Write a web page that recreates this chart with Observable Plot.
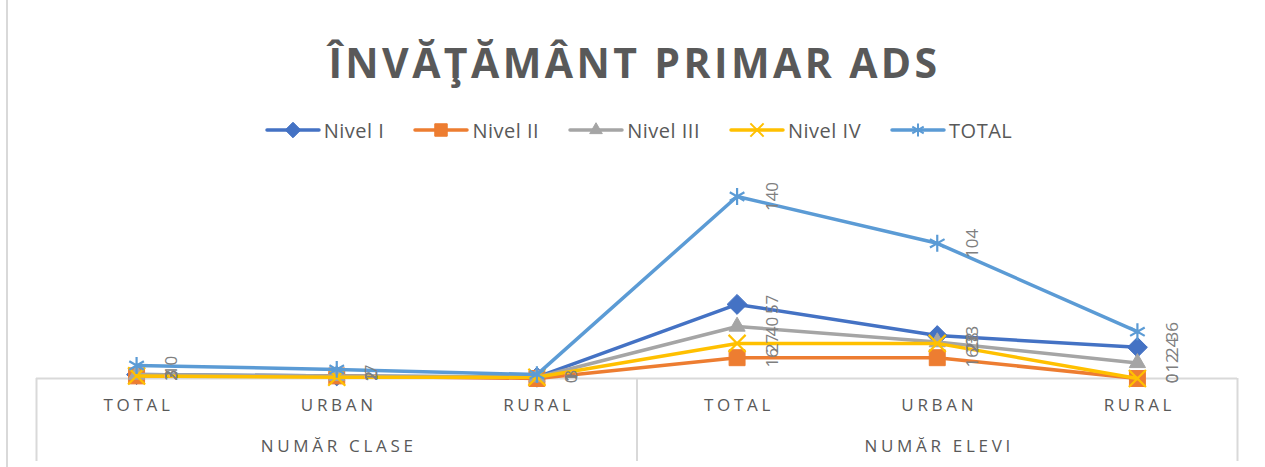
<!DOCTYPE html>
<html>
<head>
<meta charset="utf-8">
<script src="https://cdn.jsdelivr.net/npm/d3@7"></script>
<script src="https://cdn.jsdelivr.net/npm/@observablehq/plot@0.6"></script>
<style>
  html, body { margin: 0; padding: 0; background: #fff; }
  #wrap { position: relative; width: 1265px; height: 467px; overflow: hidden; font-family: "Open Sans", sans-serif; }
  #border { position: absolute; left: 6px; top: 0; width: 2px; height: 467px; background: #d9d9d9; }
  #title { position: absolute; left: 0; width: 1265px; top: 34px; height: 56px; line-height: 56px; text-align: center;
           font-size: 41px; font-weight: 700; letter-spacing: 3.4px; color: #595959; padding-left: 4px; box-sizing: border-box; }
  #legend { position: absolute; left: 0; width: 1265px; top: 116px; height: 28px; display: flex; justify-content: center;
            align-items: center; gap: 29px; font-size: 20px; letter-spacing: 0.5px; color: #595959; padding-left: 12px; box-sizing: border-box; }
  .item { display: flex; align-items: center; gap: 3px; }
  #chart { position: absolute; left: 0; top: 150px; }
  #chart svg { overflow: visible; }
</style>
</head>
<body>
<div id="wrap">
  <div id="border"></div>
  <div id="title">ÎNVĂŢĂMÂNT PRIMAR ADS</div>
  <div id="legend"></div>
  <div id="chart"></div>
</div>
<script>
const categories = ["TOTAL", "URBAN", "RURAL", "TOTAL", "URBAN", "RURAL"];
const categoryGroup = [0, 0, 0, 1, 1, 1];
const groups = ["NUMĂR CLASE", "NUMĂR ELEVI"];
const series = ["Nivel I", "Nivel II", "Nivel III", "Nivel IV", "TOTAL"];
const nivelI   = [3, 2, 1, 57, 33, 24];
const nivelII  = [2, 2, 0, 16, 16, 0];
const nivelIII = [3, 2, 1, 40, 28, 12];
const nivelIV  = [2, 1, 1, 27, 27, 0];
const totalVals = [10, 7, 3, 140, 104, 36];
const values = [nivelI, nivelII, nivelIII, nivelIV, totalVals];

const colors = ["#4472C4", "#ED7D31", "#A5A5A5", "#FFC000", "#5B9BD5"];
const symbols = ["diamond2", "square", "triangle", "times", "asterisk"];
const symbolR = [9, 9, 6, 7.8, 8];
const filled = [true, true, true, false, false];

const rows = series.flatMap((s, k) => values[k].map((v, i) => ({series: s, k, i, value: v})));

const W = 1265, H = 317, mT = 20, mB = 89, mL = 36, mR = 28;
const frameH = H - mT - mB;

const bounds = [-0.5];
for (let i = 1; i < categories.length; i++) if (categoryGroup[i] !== categoryGroup[i - 1]) bounds.push(i - 0.5);
bounds.push(categories.length - 0.5);

const groupCenters = groups.map((g, gi) => ({name: g, x: d3.mean(categories.map((c, i) => i).filter(i => categoryGroup[i] === gi))}));

const marks = [
  Plot.ruleY([0], {stroke: "#d9d9d9", strokeWidth: 2}),
  Plot.ruleX(bounds, {x: d => d, stroke: "#d9d9d9", strokeWidth: 2, insetTop: frameH, insetBottom: -83})
];
series.forEach((s, k) => {
  const data = rows.filter(d => d.k === k);
  marks.push(Plot.line(data, {x: "i", y: "value", stroke: colors[k], strokeWidth: 3.5, strokeLinejoin: "round", strokeLinecap: "round"}));
  marks.push(Plot.dot(data, {
    x: "i", y: "value", symbol: () => symbols[k], r: symbolR[k],
    fill: filled[k] ? colors[k] : "none", stroke: colors[k], strokeWidth: filled[k] ? 1 : 2.2
  }));
});
marks.push(Plot.text(rows, {x: "i", y: "value", text: d => String(d.value), rotate: -90, dx: 35,
  fontSize: 17, fill: "#7f7f7f", fontFamily: "Open Sans"}));
marks.push(Plot.text(categories, {x: (d, i) => i, text: d => d, frameAnchor: "bottom", dy: 32, dx: 2,
  fontSize: 17, fill: "#595959", fontFamily: "Open Sans"}));
marks.push(Plot.text(groupCenters, {x: "x", text: "name", frameAnchor: "bottom", dy: 73, dx: 2,
  fontSize: 17, fill: "#595959", fontFamily: "Open Sans"}));

const chart = Plot.plot({
  width: W, height: H, marginTop: mT, marginBottom: mB, marginLeft: mL, marginRight: mR,
  x: {type: "linear", domain: [-0.5, categories.length - 0.5], axis: null},
  y: {domain: [0, 160], axis: null},
  symbol: {type: "identity"},
  style: {background: "transparent", overflow: "visible"},
  marks
});
document.getElementById("chart").appendChild(chart);

// letter-spaced axis labels
const spaced = new Set([...categories, ...groups]);
chart.querySelectorAll("text").forEach(t => {
  if (spaced.has(t.textContent)) t.style.letterSpacing = "3.7px";
});

// legend
const legend = d3.select("#legend");
const symMap = {diamond2: d3.symbolDiamond2, square: d3.symbolSquare, triangle: d3.symbolTriangle, times: d3.symbolTimes, asterisk: d3.symbolAsterisk};
series.forEach((s, k) => {
  const item = legend.append("div").attr("class", "item");
  const svg = item.append("svg").attr("width", 56).attr("height", 22);
  svg.append("line").attr("x1", 2).attr("x2", 54).attr("y1", 11).attr("y2", 11)
    .attr("stroke", colors[k]).attr("stroke-width", 3.5).attr("stroke-linecap", "round");
  const rr = symbolR[k] * 0.78;
  svg.append("path").attr("transform", "translate(28,11)")
    .attr("d", d3.symbol(symMap[symbols[k]], Math.PI * rr * rr)())
    .attr("fill", filled[k] ? colors[k] : "none").attr("stroke", colors[k]).attr("stroke-width", filled[k] ? 1 : 2);
  item.append("span").text(s);
});
</script>
</body>
</html>
